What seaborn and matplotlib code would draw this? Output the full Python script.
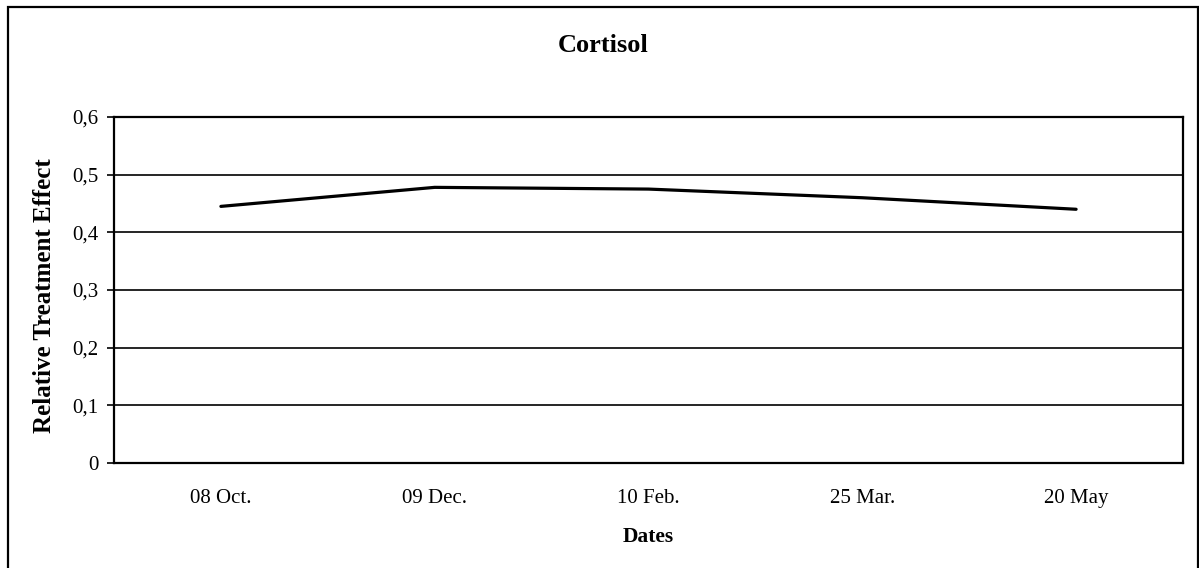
import matplotlib
matplotlib.use("Agg")
import matplotlib.pyplot as plt
from matplotlib.patches import Rectangle
import seaborn as sns
import pandas as pd

# Sampling dates and relative treatment effect for cortisol
dates = ["08 Oct.", "09 Dec.", "10 Feb.", "25 Mar.", "20 May"]
effect = [0.445, 0.478, 0.475, 0.460, 0.440]
y_ticks = [0.0, 0.1, 0.2, 0.3, 0.4, 0.5, 0.6]
y_tick_labels = ["0", "0,1", "0,2", "0,3", "0,4", "0,5", "0,6"]

df = pd.DataFrame({"Dates": dates, "Effect": effect})

sns.set_theme(style="white")
plt.rcParams["font.family"] = ["Liberation Serif", "DejaVu Serif"]

W, H = 1199, 568
fig = plt.figure(figsize=(W / 100, H / 100), dpi=100)
fig.patch.set_facecolor("white")

# outer chart frame
fig.add_artist(Rectangle((8 / W, -10 / H), 1190 / W, (H - 7 + 10) / H,
                         transform=fig.transFigure, fill=False,
                         edgecolor="black", linewidth=1.6, zorder=0))

ax = fig.add_axes([114 / W, (H - 463) / H, 1069 / W, 346 / H])
sns.lineplot(data=df, x="Dates", y="Effect", ax=ax, color="black",
             linewidth=2.3, sort=False)

ax.set_xlim(-0.5, len(dates) - 0.5)
ax.set_ylim(0, 0.6)
ax.set_yticks(y_ticks)
ax.set_yticklabels(y_tick_labels)
ax.yaxis.grid(True, color="black", linewidth=1.2)
ax.set_axisbelow(True)

for sp in ax.spines.values():
    sp.set_visible(True)
    sp.set_color("black")
    sp.set_linewidth(1.6)

ax.tick_params(axis="y", which="major", left=True, length=5, width=1.2,
               color="black", pad=6, labelsize=15, labelcolor="black")
ax.tick_params(axis="x", which="major", bottom=False, length=0, pad=19,
               labelsize=15, labelcolor="black")

ax.set_xlabel("Dates", fontsize=15.5, fontweight="bold", color="black")
ax.xaxis.set_label_coords(0.5, (463 - 537) / 346)
ax.xaxis.label.set_va("center")

ax.set_ylabel("Relative Treatment Effect", fontsize=18, fontweight="bold",
              color="black")
ax.yaxis.set_label_coords((45 - 114) / 1069, (463 - 296) / 346)
ax.yaxis.label.set_va("center")

fig.text(603 / W, 1 - 45 / H, "Cortisol", ha="center", va="center",
         fontsize=19, fontweight="bold", color="black")

fig.savefig("out.png", dpi=100, facecolor="white")
